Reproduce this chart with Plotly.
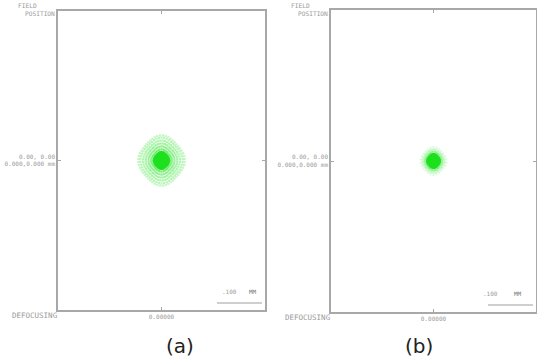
import numpy as np
import plotly.graph_objects as go

W, H = 537, 363

# ---- data ----
panels = ["(a)", "(b)"]
field_label = "0.00, 0.00<br>0.000,0.000 mm"
defocus_value = "0.00000"
scale_text = [".100", "MM"]

# spot ring structure, units of the plot axes
ring_radius_a = [1.2, 2.4, 3.6, 4.8, 6.0, 7.2, 9.5, 12.0, 14.5, 17.0, 19.5, 21.5]
ring_npts_a = [8, 16, 24, 32, 40, 44, 36, 40, 44, 48, 50, 52]
ring_alpha_a = [1.0, 1.0, 1.0, 1.0, 1.0, 0.9, 0.5, 0.45, 0.4, 0.35, 0.3, 0.25]

ring_radius_b = [1.0, 2.0, 3.0, 4.0, 5.0, 6.0, 8.0, 10.0, 12.0]
ring_npts_b = [8, 14, 20, 26, 32, 36, 30, 30, 26]
ring_alpha_b = [1.0, 1.0, 1.0, 1.0, 1.0, 0.9, 0.4, 0.25, 0.15]

ring_wave = [0.05, 0.05]   # scalloping of rings in (a), (b)

# frame boxes in window pixels (left, right, top, bottom)
boxes = [(58, 265, 11, 310), (331, 536, 10, 312)]

fig = go.Figure()


def px(x):
    return x / W


def py(y):
    return 1 - y / H


for i, (rad, npts, alph) in enumerate([(ring_radius_a, ring_npts_a, ring_alpha_a),
                                        (ring_radius_b, ring_npts_b, ring_alpha_b)]):
    xa = "x" if i == 0 else "x2"
    ya = "y" if i == 0 else "y2"
    for r, n, a in zip(rad, npts, alph):
        th = np.linspace(0, 2 * np.pi, n, endpoint=False) + np.pi / n
        rr = r * (1 + ring_wave[i] * np.cos(4 * th))
        fig.add_trace(go.Scatter(
            x=rr * np.cos(th), y=1.08 * rr * np.sin(th), mode="markers",
            xaxis=xa, yaxis=ya, showlegend=False, hoverinfo="skip",
            marker=dict(symbol="square", size=2.2,
                        color=f"rgba(30,225,30,{a})", line=dict(width=0))))

grey = "#9a9a9a"
for i, (l, r, t, b) in enumerate(boxes):
    wpx = r - l
    hpx = b - t
    xr = 100.0
    yr = xr * hpx / wpx
    sfx = "" if i == 0 else "2"
    common = dict(showline=True, linecolor="#a8a8a8", linewidth=1.5, mirror="allticks",
                  ticks="inside", ticklen=3, tickcolor="#a8a8a8", tickvals=[0],
                  showgrid=False, zeroline=False, fixedrange=True,
                  tickfont=dict(family="DejaVu Sans Mono", size=6, color=grey))
    fig.layout["xaxis" + sfx] = dict(common, domain=[px(l), min(px(r), 1.0)], range=[-xr, xr],
                                     anchor="y" + sfx, ticktext=[defocus_value])
    fig.layout["yaxis" + sfx] = dict(common, domain=[py(b), py(t)], range=[-yr, yr],
                                     anchor="x" + sfx, ticktext=[field_label])

    # FIELD POSITION label (two lines, tight spacing)
    fig.add_annotation(xref="paper", yref="paper", x=px(l - 42), y=py(t - 5),
                       text="FIELD", showarrow=False, xanchor="left",
                       yanchor="middle",
                       font=dict(family="DejaVu Sans Mono", size=6.2, color=grey))
    fig.add_annotation(xref="paper", yref="paper", x=px(l - 1), y=py(t + 3),
                       text="POSITION", showarrow=False, xanchor="right",
                       yanchor="middle",
                       font=dict(family="DejaVu Sans Mono", size=6.2, color=grey))
    # DEFOCUSING label
    fig.add_annotation(xref="paper", yref="paper", x=px(l - 48), y=py(b + 5),
                       text="DEFOCUSING", showarrow=False, xanchor="left",
                       yanchor="middle",
                       font=dict(family="DejaVu Sans Mono", size=7.5, color=grey))
    # scale bar
    sx0 = r - 48
    sx1 = r - 3
    fig.add_shape(type="line", xref="paper", yref="paper",
                  x0=px(sx0), x1=px(sx1), y0=py(b - 7), y1=py(b - 7),
                  line=dict(color="#a0a0a0", width=1.2))
    fig.add_annotation(xref="paper", yref="paper", x=px(sx0 + 12), y=py(b - 13),
                       text=scale_text[0], showarrow=False,
                       font=dict(family="DejaVu Sans Mono", size=6, color=grey))
    fig.add_annotation(xref="paper", yref="paper", x=px(sx1 - 9), y=py(b - 13),
                       text=scale_text[1], showarrow=False,
                       font=dict(family="DejaVu Sans Mono", size=6, color="#777"))
    # caption
    fig.add_annotation(xref="paper", yref="paper", x=px((l + r) / 2 + (2 if i == 0 else 1)),
                       y=py(346), text=panels[i], showarrow=False, yanchor="middle",
                       font=dict(family="DejaVu Sans", size=20, color="#222"))

fig.update_layout(width=W, height=H, margin=dict(l=0, r=0, t=0, b=0),
                  paper_bgcolor="white", plot_bgcolor="white")
fig.write_html("out.html", config={"displayModeBar": False},
               post_script="document.body.style.margin='0';"
                           "document.body.style.overflow='hidden';")
